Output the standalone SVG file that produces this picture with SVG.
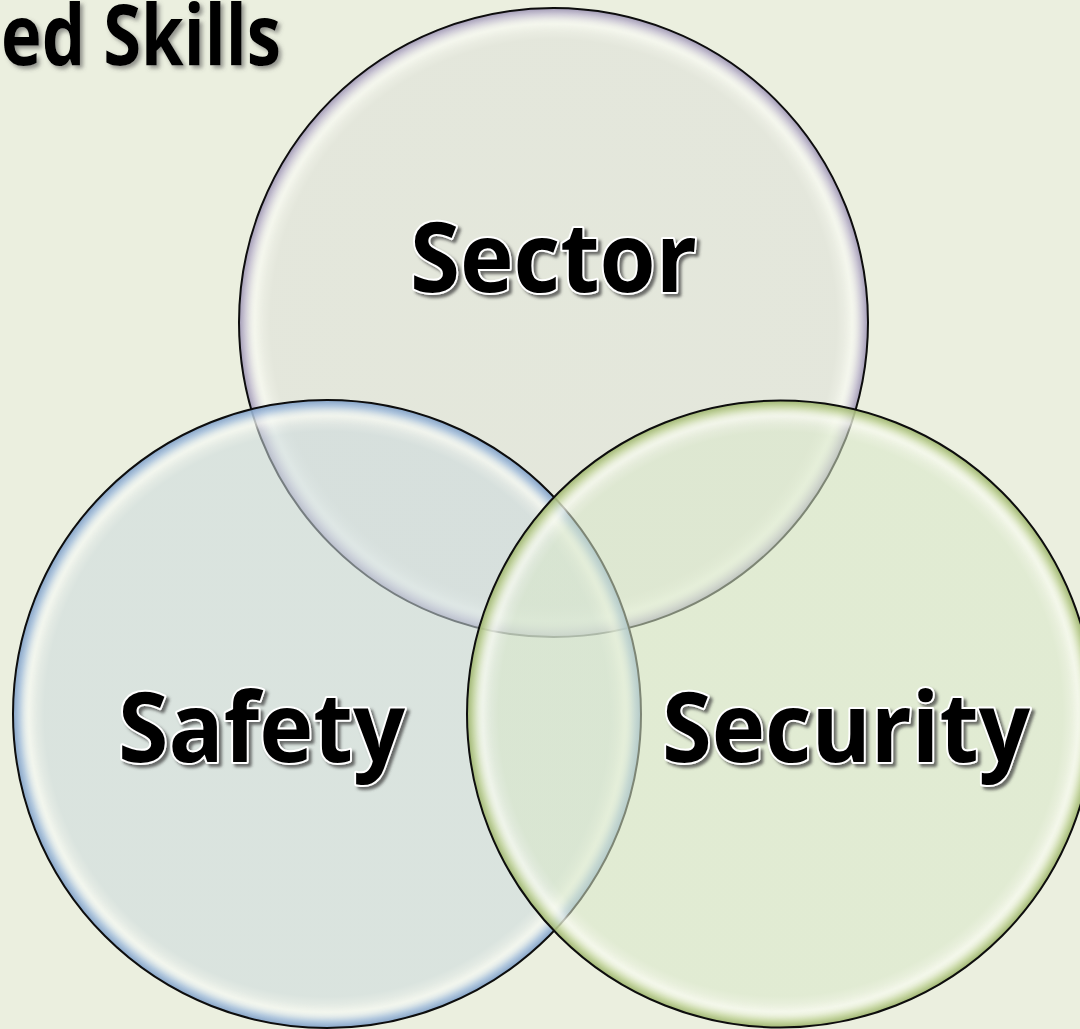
<svg xmlns="http://www.w3.org/2000/svg" width="1080" height="1029" viewBox="0 0 1080 1029">
  <style>
    .lbl { font-family: "Open Sans", "Liberation Sans", sans-serif; font-weight: 700; font-size: 96px; fill: #000; stroke: #fff; stroke-width: 4; stroke-linejoin: round; paint-order: stroke; text-anchor: middle; filter: url(#txtShadow); }
    .title { font-family: "Open Sans", "Liberation Sans", sans-serif; font-weight: 700; font-size: 84px; fill: #000; filter: url(#titleShadow); }
    .rim { fill: none; stroke: #0d0d0d; stroke-width: 2; }
    .hl { fill: none; stroke: #fbfdf4; stroke-width: 6; opacity: 0.6; filter: url(#soft); }
  </style>
  <defs>
    <filter id="txtShadow" x="-10%" y="-20%" width="130%" height="150%">
      <feDropShadow dx="3" dy="3" stdDeviation="1.4" flood-color="#404040" flood-opacity="0.75"/>
    </filter>
    <filter id="titleShadow" x="-10%" y="-20%" width="130%" height="150%">
      <feDropShadow dx="3" dy="3" stdDeviation="2" flood-color="#555" flood-opacity="0.6"/>
    </filter>
    <filter id="soft" x="-5%" y="-5%" width="110%" height="110%">
      <feGaussianBlur stdDeviation="3"/>
    </filter>
    <radialGradient id="gSector" cx="0.5" cy="0.5" r="0.5">
      <stop offset="0" stop-color="#DEE1D8" stop-opacity="0.55"/>
      <stop offset="0.9" stop-color="#DEE0D9" stop-opacity="0.55"/>
      <stop offset="0.95" stop-color="#F4F5F0" stop-opacity="0.55"/>
      <stop offset="0.98" stop-color="#C6C0D4" stop-opacity="0.8"/>
      <stop offset="1" stop-color="#9C94B2" stop-opacity="0.95"/>
    </radialGradient>
    <radialGradient id="gSafety" cx="0.5" cy="0.5" r="0.5">
      <stop offset="0" stop-color="#CCDADE" stop-opacity="0.55"/>
      <stop offset="0.9" stop-color="#CCDADE" stop-opacity="0.55"/>
      <stop offset="0.95" stop-color="#EEF3F2" stop-opacity="0.55"/>
      <stop offset="0.98" stop-color="#A9C2DE" stop-opacity="0.85"/>
      <stop offset="1" stop-color="#7F9FC6" stop-opacity="0.95"/>
    </radialGradient>
    <radialGradient id="gSecurity" cx="0.5" cy="0.5" r="0.5">
      <stop offset="0" stop-color="#D9E8C9" stop-opacity="0.55"/>
      <stop offset="0.9" stop-color="#D9E8C9" stop-opacity="0.55"/>
      <stop offset="0.95" stop-color="#F2F7E8" stop-opacity="0.55"/>
      <stop offset="0.98" stop-color="#C4D59E" stop-opacity="0.85"/>
      <stop offset="1" stop-color="#9CB36C" stop-opacity="0.95"/>
    </radialGradient>
  </defs>

  <rect x="0" y="0" width="1080" height="1029" fill="#EBEFDF"/>

  <g id="title">
    <text class="title" x="1" y="65" textLength="280" lengthAdjust="spacingAndGlyphs">ed Skills</text>
  </g>

  <g id="node-sector">
    <circle cx="553.5" cy="322.5" r="314.5" fill="url(#gSector)"/>
    <circle class="hl" cx="553.5" cy="322.5" r="300"/>
    <circle class="rim" cx="553.5" cy="322.5" r="314.5"/>
  </g>

  <g id="node-safety">
    <circle cx="327" cy="714" r="314" fill="url(#gSafety)"/>
    <circle class="hl" cx="327" cy="714" r="299.5"/>
    <circle class="rim" cx="327" cy="714" r="314"/>
  </g>

  <g id="node-security">
    <circle cx="780.5" cy="714" r="313.5" fill="url(#gSecurity)"/>
    <circle class="hl" cx="780.5" cy="714" r="299"/>
    <circle class="rim" cx="780.5" cy="714" r="313.5"/>
  </g>

  <g id="labels">
    <text class="lbl" x="553.5" y="292" textLength="287" lengthAdjust="spacingAndGlyphs">Sector</text>
    <text class="lbl" x="261.5" y="762" textLength="287" lengthAdjust="spacingAndGlyphs">Safety</text>
    <text class="lbl" x="846" y="762" textLength="368" lengthAdjust="spacingAndGlyphs">Security</text>
  </g>

  <g id="connectors"></g>
</svg>
